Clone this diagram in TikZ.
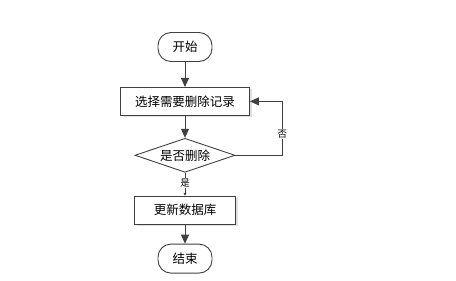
\documentclass[tikz,border=0pt]{standalone}
\usepackage{fontspec}
\setmainfont{Noto Sans CJK SC}
\usetikzlibrary{shapes.geometric, positioning, arrows.meta, shadows}

\begin{document}
\begin{tikzpicture}[x=1pt, y=-1pt,
  term/.style={draw=black!75, rounded corners=13pt, minimum width=54pt, minimum height=29pt, inner sep=0pt, font=\fontsize{12.5}{14}\selectfont},
  proc/.style={draw=black!75, fill=white, drop shadow={shadow xshift=2pt, shadow yshift=-2pt, fill=black!12, opacity=1}, minimum height=28pt, inner sep=0pt, font=\fontsize{12.5}{14}\selectfont},
  decide/.style={draw=black!75, diamond, aspect=3, minimum width=100pt, minimum height=34pt, inner sep=0pt, font=\fontsize{12.5}{14}\selectfont},
  lbl/.style={fill=white, inner sep=1pt, font=\fontsize{9.5}{10}\selectfont},
  line width=0.9pt, draw=black!75,
  >={Triangle[width=8pt,length=9pt]}]
  \useasboundingbox (0,0) rectangle (456,281);
  \node[term] (start) at (185,47) {开始};
  \node[proc, minimum width=129pt, below=25pt of start] (select) {选择需要删除记录};
  \node[decide, below=22pt of select] (ask) {是否删除};
  \node[proc, minimum width=101pt, below=23pt of ask] (update) {更新数据库};
  \node[term, below=19pt of update] (stop) {结束};
  \coordinate[right=47pt of ask.east] (back);
  \draw[->] (start) -- (select);
  \draw[->] (select) -- (ask);
  \draw[-{Triangle[width=3pt,length=3pt]}] (ask) -- node[lbl, pos=0.45] {是} (update);
  \draw[->] (update) -- (stop);
  \draw[->] (ask.east) -- (back) -- node[lbl, pos=0.4] {否} (back |- select) -- (select.east);
\end{tikzpicture}
\end{document}
